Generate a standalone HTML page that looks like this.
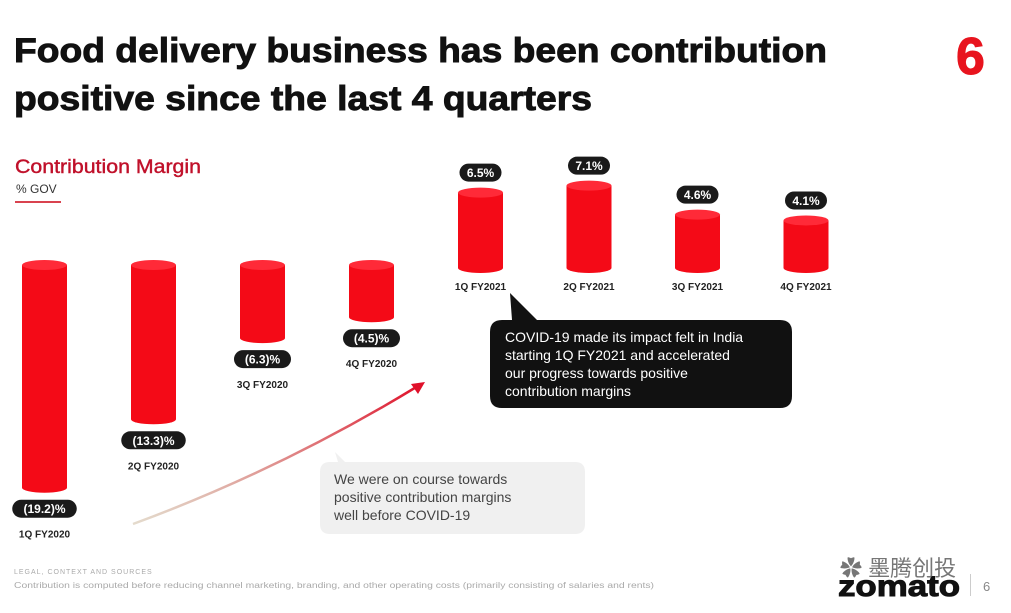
<!DOCTYPE html>
<html><head><meta charset="utf-8"><style>
html,body{margin:0;padding:0;background:#fff;}
svg{display:block;font-family:"Liberation Sans","Noto Sans CJK SC",sans-serif;}
</style></head><body>
<svg width="1011" height="613" viewBox="0 0 1011 613">
<text x="14" y="62" font-size="34" font-weight="bold" fill="#111" stroke="#111" stroke-width="0.9" textLength="813" lengthAdjust="spacingAndGlyphs">Food delivery business has been contribution</text>
<text x="14" y="110" font-size="34" font-weight="bold" fill="#111" stroke="#111" stroke-width="0.9" textLength="578" lengthAdjust="spacingAndGlyphs">positive since the last 4 quarters</text>
<text x="956" y="74" font-size="52" font-weight="bold" fill="#e8141e" stroke="#e8141e" stroke-width="1">6</text>
<text x="15" y="173" font-size="19" fill="#c0102a" stroke="#c0102a" stroke-width="0.4" textLength="186" lengthAdjust="spacingAndGlyphs">Contribution Margin</text>
<text x="16" y="193" font-size="12" fill="#333">% GOV</text>
<rect x="15" y="201" width="46" height="2" fill="#d9434f"/>
<defs>
<linearGradient id="arr" x1="0" y1="1" x2="1" y2="0"><stop offset="0" stop-color="#c9b79a" stop-opacity="0.5"/><stop offset="1" stop-color="#e0102a"/></linearGradient>
</defs>
<path d="M133,524 Q280,470 418,386" fill="none" stroke="url(#arr)" stroke-width="2.5"/>
<polygon points="425,382 411,384 418,394" fill="#e0102a"/>
<g id="bars"></g>
<path d="M510,293 L537,320 L780,320 Q792,320 792,332 L792,396 Q792,408 780,408 L502,408 Q490,408 490,396 L490,332 Q490,320 502,320 L512,320 Z" fill="#111"/>
<text font-size="14" fill="#fff"><tspan x="505" y="342">COVID-19 made its impact felt in India</tspan><tspan x="505" y="360">starting 1Q FY2021 and accelerated</tspan><tspan x="505" y="378">our progress towards positive</tspan><tspan x="505" y="396">contribution margins</tspan></text>
<path d="M335,452 L345,462 L575,462 Q585,462 585,472 L585,524 Q585,534 575,534 L330,534 Q320,534 320,524 L320,472 Q320,462 330,462 L338,462 Z" fill="#f0f0f0"/>
<text font-size="14" fill="#444"><tspan x="334" y="484">We were on course towards</tspan><tspan x="334" y="502">positive contribution margins</tspan><tspan x="334" y="520">well before COVID-19</tspan></text>
<text x="14" y="574" font-size="7" fill="#aaa" letter-spacing="1">LEGAL, CONTEXT AND SOURCES</text>
<text x="14" y="588" font-size="8" fill="#aaa" textLength="640" lengthAdjust="spacingAndGlyphs">Contribution is computed before reducing channel marketing, branding, and other operating costs (primarily consisting of salaries and rents)</text>
<text x="838" y="596" font-size="30" font-weight="bold" fill="#111" stroke="#111" stroke-width="1" textLength="122" lengthAdjust="spacingAndGlyphs">zomato</text>
<rect x="970" y="574" width="1" height="22" fill="#ccc"/>
<text x="983" y="591" font-size="13" fill="#888">6</text>
<text x="840" y="576" font-size="22" fill="#555" opacity="0.8">✿ 墨腾创投</text>
</svg>
<script>
const categories = ["1Q FY2020","2Q FY2020","3Q FY2020","4Q FY2020","1Q FY2021","2Q FY2021","3Q FY2021","4Q FY2021"];
const values = [-19.2,-13.3,-6.3,-4.5,6.5,7.1,4.6,4.1];
const valueLabels = ["(19.2)%","(13.3)%","(6.3)%","(4.5)%","6.5%","7.1%","4.6%","4.1%"];
const NS="http://www.w3.org/2000/svg";
const g=document.getElementById('bars');
const xPos=i=> i<4 ? 44.5+i*109 : 480.5+(i-4)*108.5;
const scale=v=>Math.abs(v)*11.6;
const negBase=265, posBase=268, bw=45;
function mk(t,a){const e=document.createElementNS(NS,t);for(const k in a)e.setAttribute(k,a[k]);g.appendChild(e);return e;}
values.forEach((v,i)=>{
  const cx=xPos(i), h=scale(v);
  const top = v<0 ? negBase : posBase-h;
  const bot = v<0 ? negBase+h : posBase;
  const bar=mk('path',{d:`M${cx-bw/2},${top} L${cx-bw/2},${bot} A${bw/2},5 0 0 0 ${cx+bw/2},${bot} L${cx+bw/2},${top} Z`,fill:'#f40a17'});
  
  
  const cap=mk('ellipse',{cx:cx,cy:top,rx:bw/2,ry:5,fill:'#ff2a38'});
  
  
  const lw = valueLabels[i].length*7.5+12;
  let pillY, catY;
  if(v<0){ pillY=bot+21; catY=bot+46; } else { pillY=top-20; catY=286; }
  const pill=mk('rect',{x:cx-lw/2,y:pillY-9,width:lw,height:18,rx:9,fill:'#1a1a1a'});
  
  
  const t=mk('text',{x:cx,y:pillY+4.5,'font-size':12,'font-weight':'bold',fill:'#fff','text-anchor':'middle'});
  t.textContent=valueLabels[i];
  
  
  const c=mk('text',{x:cx,y:catY+4,'font-size':10,'font-weight':'bold',fill:'#222','text-anchor':'middle'});
  c.textContent=categories[i];
  
  
});
</script>
</body></html>
